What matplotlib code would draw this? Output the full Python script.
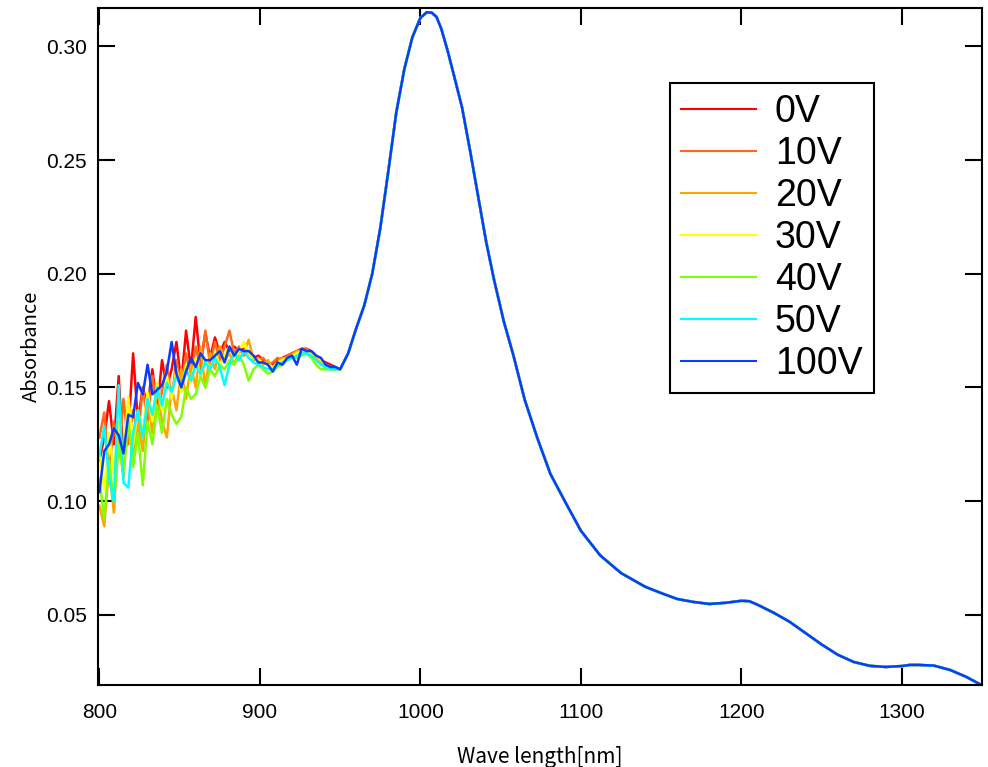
import numpy as np
import matplotlib
matplotlib.use("Agg")
import matplotlib.pyplot as plt

matplotlib.rcParams['font.family'] = ['Liberation Sans', 'DejaVu Sans']

# noisy region 800-947 nm, 3 nm step
wl_noisy = np.arange(800, 950, 3)

a_0v = [0.118, 0.128, 0.144, 0.125, 0.155, 0.118, 0.130, 0.165, 0.135, 0.150,
        0.142, 0.158, 0.140, 0.162, 0.150, 0.158, 0.170, 0.152, 0.175, 0.158,
        0.181, 0.160, 0.174, 0.163, 0.172, 0.165, 0.170, 0.166, 0.168, 0.166,
        0.167, 0.165, 0.163, 0.164, 0.162, 0.161, 0.160, 0.162, 0.163, 0.164,
        0.165, 0.166, 0.167, 0.167, 0.166, 0.164, 0.162, 0.161, 0.160, 0.159]
a_10v = [0.128, 0.139, 0.112, 0.135, 0.120, 0.145, 0.125, 0.140, 0.128, 0.150,
         0.135, 0.155, 0.140, 0.148, 0.160, 0.145, 0.162, 0.150, 0.165, 0.155,
         0.168, 0.158, 0.175, 0.160, 0.170, 0.162, 0.168, 0.175, 0.165, 0.168,
         0.164, 0.166, 0.163, 0.162, 0.163, 0.160, 0.161, 0.163, 0.162, 0.164,
         0.165, 0.166, 0.166, 0.167, 0.165, 0.164, 0.162, 0.160, 0.159, 0.158]
a_20v = [0.098, 0.089, 0.115, 0.095, 0.128, 0.110, 0.140, 0.118, 0.135, 0.122,
         0.145, 0.130, 0.150, 0.135, 0.128, 0.150, 0.140, 0.158, 0.145, 0.160,
         0.150, 0.168, 0.150, 0.165, 0.158, 0.168, 0.162, 0.165, 0.160, 0.166,
         0.165, 0.171, 0.162, 0.163, 0.160, 0.162, 0.158, 0.161, 0.163, 0.162,
         0.164, 0.166, 0.166, 0.165, 0.164, 0.163, 0.161, 0.159, 0.158, 0.158]
a_30v = [0.122, 0.105, 0.130, 0.112, 0.135, 0.118, 0.146, 0.125, 0.140, 0.130,
         0.148, 0.135, 0.152, 0.140, 0.155, 0.145, 0.158, 0.148, 0.160, 0.152,
         0.163, 0.155, 0.162, 0.158, 0.165, 0.160, 0.164, 0.168, 0.163, 0.166,
         0.170, 0.165, 0.163, 0.162, 0.161, 0.160, 0.159, 0.161, 0.162, 0.163,
         0.164, 0.165, 0.166, 0.166, 0.165, 0.164, 0.162, 0.160, 0.159, 0.158]
a_40v = [0.110, 0.092, 0.118, 0.100, 0.125, 0.112, 0.135, 0.115, 0.130, 0.107,
         0.135, 0.125, 0.142, 0.130, 0.145, 0.138, 0.134, 0.137, 0.150, 0.145,
         0.147, 0.155, 0.150, 0.158, 0.155, 0.160, 0.158, 0.162, 0.160, 0.164,
         0.160, 0.153, 0.158, 0.160, 0.158, 0.156, 0.157, 0.159, 0.160, 0.162,
         0.163, 0.163, 0.164, 0.165, 0.163, 0.160, 0.158, 0.158, 0.158, 0.158]
a_50v = [0.120, 0.133, 0.110, 0.100, 0.151, 0.108, 0.106, 0.130, 0.140, 0.128,
         0.145, 0.138, 0.150, 0.142, 0.152, 0.148, 0.155, 0.150, 0.158, 0.153,
         0.160, 0.156, 0.161, 0.158, 0.163, 0.159, 0.151, 0.160, 0.165, 0.162,
         0.166, 0.163, 0.161, 0.160, 0.159, 0.158, 0.158, 0.160, 0.161, 0.162,
         0.163, 0.164, 0.165, 0.165, 0.164, 0.162, 0.160, 0.159, 0.158, 0.158]
a_100v = [0.104, 0.122, 0.125, 0.132, 0.129, 0.121, 0.138, 0.137, 0.152, 0.147,
          0.160, 0.147, 0.149, 0.151, 0.157, 0.170, 0.156, 0.150, 0.157, 0.163,
          0.159, 0.165, 0.162, 0.162, 0.164, 0.166, 0.161, 0.168, 0.164, 0.167,
          0.166, 0.166, 0.164, 0.161, 0.161, 0.160, 0.157, 0.161, 0.160, 0.163,
          0.164, 0.160, 0.167, 0.166, 0.166, 0.164, 0.163, 0.160, 0.159, 0.159]

# shared part of the spectrum (all voltages overlap)
wl_tail = [950, 955, 960, 965, 970, 975, 980, 985, 990, 995, 1000, 1004, 1007,
           1010, 1013, 1017, 1021, 1026, 1031, 1036, 1041, 1046, 1052, 1058,
           1065, 1073, 1081, 1090, 1100, 1112, 1125, 1140, 1150, 1160, 1170,
           1180, 1190, 1200, 1205, 1210, 1220, 1230, 1240, 1250, 1260, 1270,
           1280, 1290, 1300, 1305, 1310, 1320, 1330, 1340, 1350]
a_tail = [0.158, 0.165, 0.176, 0.186, 0.200, 0.220, 0.245, 0.271, 0.290, 0.304,
          0.3125, 0.315, 0.3148, 0.313, 0.3078, 0.298, 0.287, 0.273, 0.254,
          0.234, 0.214, 0.197, 0.179, 0.164, 0.1446, 0.1275, 0.112, 0.100,
          0.087, 0.0762, 0.0684, 0.0624, 0.0596, 0.057, 0.0557, 0.0548, 0.0553,
          0.0562, 0.056, 0.0545, 0.051, 0.047, 0.042, 0.037, 0.0325, 0.0293,
          0.0276, 0.0271, 0.0275, 0.028, 0.028, 0.0277, 0.0258, 0.0228, 0.019]

labels = ['0V', '10V', '20V', '30V', '40V', '50V', '100V']
colors = ['#ff0000', '#ff6a1a', '#ffa500', '#ffff00', '#80ff00', '#00ffff', '#0a3cff']
series = [a_0v, a_10v, a_20v, a_30v, a_40v, a_50v, a_100v]

fig = plt.figure(figsize=(9.88, 7.67), dpi=100)
ax = fig.add_axes([0.099, 0.107, 0.895, 0.883])

wl = np.concatenate([wl_noisy, wl_tail])
for vals, lab, c in zip(series, labels, colors):
    ax.plot(wl, np.concatenate([vals, a_tail]), color=c, lw=1.8, label=lab)

ax.set_xlim(799, 1350)
ax.set_ylim(0.0192, 0.317)
ax.set_xticks([800, 900, 1000, 1100, 1200, 1300])
ax.set_yticks([0.05, 0.10, 0.15, 0.20, 0.25, 0.30])
ax.set_yticklabels(['0.05', '0.10', '0.15', '0.20', '0.25', '0.30'])
ax.tick_params(direction='in', length=12, width=1.5, top=True, right=True,
               labelsize=15)
ax.tick_params(axis='x', pad=13)
ax.tick_params(axis='y', pad=8)
for s in ax.spines.values():
    s.set_linewidth(1.5)

ax.set_xlabel('Wave length[nm]', fontsize=15, family=['Noto Sans CJK JP', 'DejaVu Sans'],
              labelpad=17)
ax.set_ylabel('Absorbance', fontsize=14.5, family=['Noto Sans CJK JP', 'DejaVu Sans'],
              labelpad=3)

leg = ax.legend(loc='upper left', bbox_to_anchor=(0.647, 0.889), borderaxespad=0,
                fontsize=27, handlelength=2.0, handletextpad=0.5, labelspacing=0.16,
                borderpad=0.3, fancybox=False, framealpha=1, edgecolor='black')
leg.get_frame().set_linewidth(1.5)
for h in leg.get_lines():
    h.set_linewidth(1.5)

fig.savefig('out.png', dpi=100)
